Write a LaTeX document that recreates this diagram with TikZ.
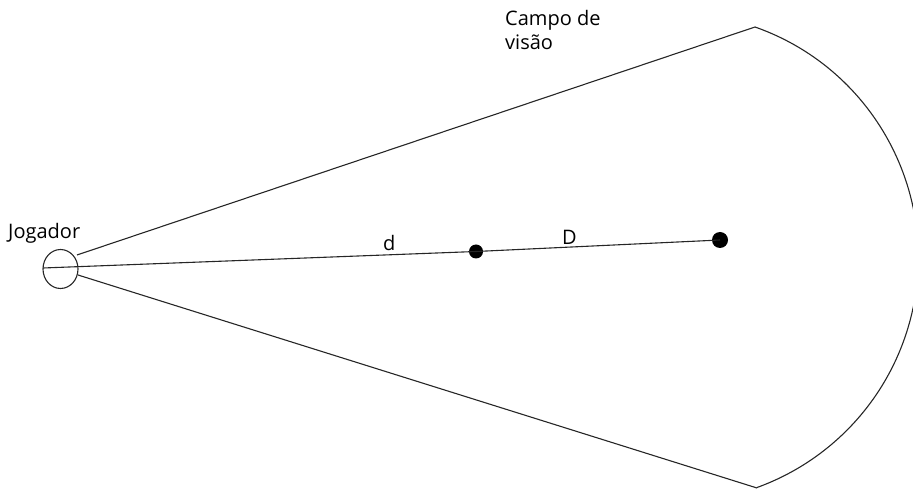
\documentclass[tikz,border=0pt]{standalone}
\usepackage{fontspec}
\setmainfont{Open Sans}
\usetikzlibrary{shapes.geometric}
\begin{document}
\begin{tikzpicture}[x=1pt,y=1pt,
  edge/.style={draw=black!85,line width=1.1pt},
  lbl/.style={inner sep=0pt,font=\fontsize{20}{23.5}\selectfont,text=black},
  dotnode/.style={circle,fill=black,inner sep=0pt}]
\useasboundingbox (0,0) rectangle (913,490);
\node[draw=black!85,line width=1.1pt,ellipse,minimum width=35pt,minimum height=39pt,inner sep=0pt] (player) at (60.5,221) {};
\node[dotnode,minimum size=14pt] (d1) at (476,238.5) {};
\node[dotnode,minimum size=16pt] (d2) at (720,250) {};
\coordinate (ps) at (43,222);
\coordinate (pu) at (77,235);
\coordinate (pl) at (78,215);
\coordinate (top) at (755,463);
\coordinate (bot) at (757,2);
\draw[edge] (ps) -- (d1.center) -- (d2.center);
\draw[edge] (pu) -- (top);
\draw[edge] (pl) -- (bot);
\draw[edge] (top) arc[start angle=70.6,end angle=-70.2,radius=244.5pt];
\node[lbl,anchor=base west] (jog) at (8,251) {Jogador};
\node[lbl,anchor=base west] (ld) at (383,239) {d};
\node[lbl,anchor=base west] (lD) at (562,245) {D};
\node[lbl,anchor=north west,align=left] (campo) at (505,479.5) {Campo de\\visão};
\end{tikzpicture}
\end{document}
